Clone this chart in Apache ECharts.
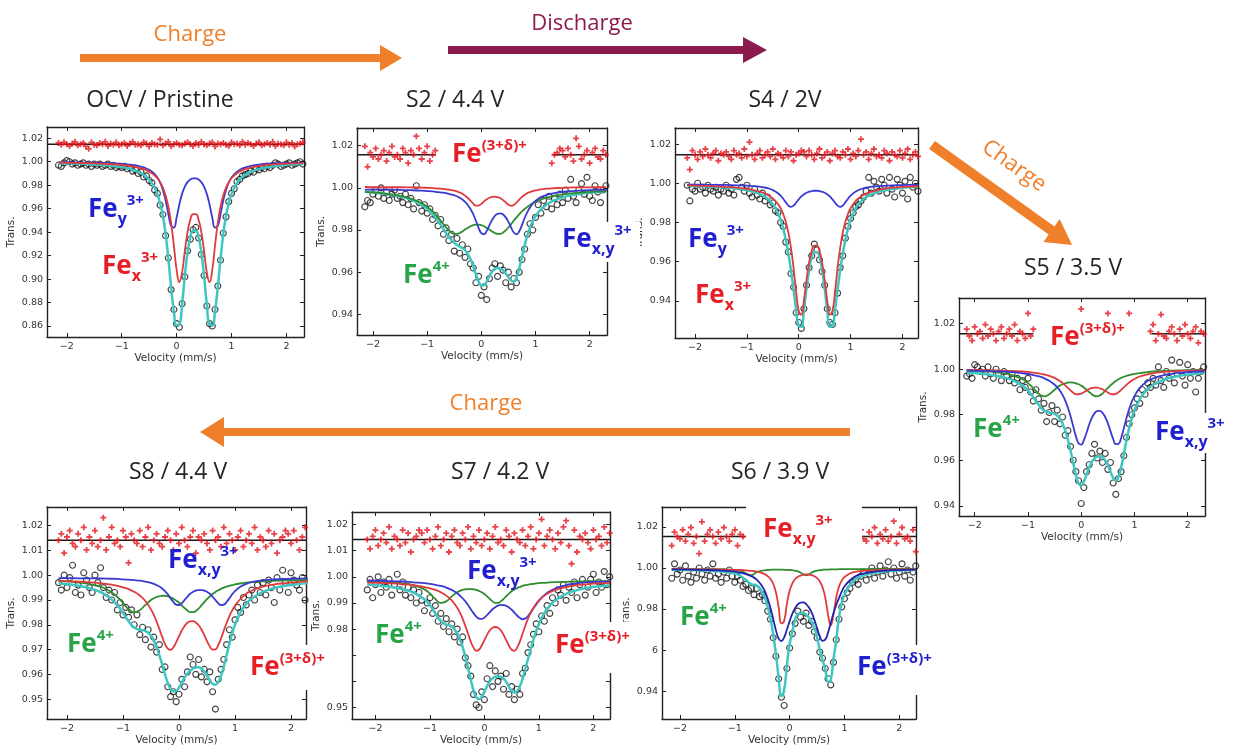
<!DOCTYPE html>
<html><head><meta charset="utf-8">
<script src="https://cdn.jsdelivr.net/npm/echarts@6.0.0/dist/echarts.min.js"></script>
<style>html,body{margin:0;padding:0;background:#fff}#c{width:1233px;height:747px}</style>
</head><body><div id="c"></div>
<script>
// ---------- shared axes values ----------
const vel = [-2.15,-2.1,-2.05,-2,-1.95,-1.9,-1.85,-1.8,-1.75,-1.7,-1.65,-1.6,-1.55,-1.5,-1.45,-1.4,-1.35,-1.3,-1.25,-1.2,-1.15,-1.1,-1.05,-1,-0.95,-0.9,-0.85,-0.8,-0.75,-0.7,-0.65,-0.6,-0.55,-0.5,-0.45,-0.4,-0.35,-0.3,-0.25,-0.2,-0.15,-0.1,-0.05,0,0.05,0.1,0.15,0.2,0.25,0.3,0.35,0.4,0.45,0.5,0.55,0.6,0.65,0.7,0.75,0.8,0.85,0.9,0.95,1,1.05,1.1,1.15,1.2,1.25,1.3,1.35,1.4,1.45,1.5,1.55,1.6,1.65,1.7,1.75,1.8,1.85,1.9,1.95,2,2.05,2.1,2.15,2.2,2.25,2.3];
const curveV = [-2.15,-1.9,-1.7,-1.5,-1.3,-1.1,-1.0,-0.9,-0.8,-0.7,-0.6,-0.5,-0.45,-0.4,-0.35,-0.3,-0.25,-0.2,-0.15,-0.1,-0.05,0,0.05,0.1,0.15,0.2,0.25,0.3,0.35,0.4,0.45,0.5,0.55,0.6,0.65,0.7,0.75,0.8,0.85,0.9,0.95,1.0,1.1,1.2,1.3,1.5,1.7,1.9,2.1,2.3];
const velTicks = [-2,-1,0,1,2];
const ocvYTicks = [0.86,0.88,0.90,0.92,0.94,0.96,0.98,1.00,1.02];
const stdYTicks = [0.94,0.96,0.98,1.00,1.02];
const s8YTicks = [0.95,0.96,0.97,0.98,0.99,1.00,1.01,1.02];
const s7YTicks = [0.95,0.96,0.97,0.98,0.99,1.00,1.01,1.02];
const s7YLabels = [0.95,0.98,0.99,1.00,1.01,1.02];

// ---------- OCV / Pristine ----------
const ocvLevel = 1.015;
const ocvData = [.997,.996,.999,1.001,1.000,.998,.999,.997,.998,.999,.997,.998,.996,.998,.997,.998,.996,.997,.998,.996,.997,.995,.996,.995,.996,.994,.995,.992,.993,.990,.991,.987,.988,.984,.982,.976,.973,.963,.955,.937,.918,.891,.874,.862,.859,.879,.902,.924,.934,.942,.944,.935,.921,.903,.877,.862,.860,.874,.894,.916,.939,.953,.966,.973,.977,.983,.985,.988,.989,.990,.992,.991,.994,.993,.995,.994,.996,.995,.997,.999,.998,.996,.997,.998,.999,.997,.998,.999,1.000,.998];
const ocvRes = [1.016,1.0145,1.0165,1.015,1.0135,1.0155,1.017,1.014,1.015,1.016,1.013,1.011,1.0165,1.0145,1.014,1.016,1.015,1.017,1.0135,1.0155,1.0145,1.0165,1.014,1.015,1.016,1.0135,1.0155,1.017,1.0145,1.015,1.014,1.0165,1.0155,1.013,1.016,1.015,1.0145,1.019,1.014,1.0155,1.017,1.0135,1.015,1.016,1.0145,1.014,1.0155,1.0165,1.015,1.0135,1.016,1.0145,1.017,1.015,1.014,1.0155,1.0165,1.013,1.0155,1.015,1.016,1.0145,1.0135,1.0165,1.015,1.0155,1.014,1.017,1.0145,1.016,1.015,1.0135,1.0155,1.0165,1.014,1.015,1.016,1.0145,1.017,1.0135,1.0155,1.015,1.014,1.0165,1.0145,1.016,1.013,1.015,1.0155,1.0165];
const ocvBlue = [.9996,.9995,.9993,.9991,.9989,.9985,.9982,.9978,.9972,.9964,.9952,.9931,.9916,.9895,.9865,.9822,.976,.967,.9554,.9453,.9439,.9524,.9636,.9726,.9788,.9826,.9849,.9858,.9858,.9849,.9826,.9788,.9726,.9636,.9524,.9439,.9453,.9554,.967,.976,.9822,.9865,.9916,.9943,.9958,.9975,.9984,.9988,.9991,.9993];
const ocvRed = [.9993,.9991,.9989,.9986,.9982,.9977,.9972,.9967,.996,.995,.9937,.9916,.9902,.9883,.9859,.9825,.9779,.9713,.9617,.9478,.9287,.908,.8974,.9057,.924,.9402,.9505,.9554,.9554,.9505,.9402,.924,.9057,.8974,.908,.9287,.9478,.9617,.9713,.9779,.9825,.9859,.9902,.9928,.9944,.9964,.9975,.9981,.9986,.9988];
const ocvFit = [.9988,.9985,.9982,.9977,.9971,.9961,.9954,.9945,.9932,.9914,.9889,.9847,.9818,.9778,.9724,.9647,.9539,.9383,.9171,.8931,.8726,.8604,.861,.8783,.9028,.9228,.9354,.9412,.9412,.9354,.9228,.9028,.8783,.861,.8604,.8726,.8931,.9171,.9383,.9539,.9647,.9724,.9818,.9871,.9902,.9939,.9958,.9969,.9977,.9981];

// ---------- S2 / 4.4 V ----------
const s2Level = 1.0157;
const s2Data = [.991,.994,.993,.997,.999,.996,1.000,.995,.998,.994,.997,.999,.995,.996,.993,.997,.992,.995,.990,1.001,.993,.989,.992,.988,.990,.985,.987,.982,.985,.978,.981,.975,.978,.970,.976,.969,.973,.967,.971,.964,.962,.955,.958,.949,.953,.947,.957,.962,.964,.958,.963,.961,.955,.960,.953,.957,.955,.960,.966,.971,.978,.983,.980,.986,.992,.988,.994,.991,.996,.990,.995,.992,.997,.993,.999,.995,1.004,.996,.993,.999,1.002,.997,1.005,.996,.994,1.001,.998,.993,.999,1.001];
const s2Res = [1.0197,1.010,1.0167,1.0147,1.0187,1.0137,1.0157,1.0177,1.0127,1.0167,1.0197,1.0147,1.0157,1.0137,1.0187,1.0167,1.0117,1.0177,1.0157,1.0245,1.0187,1.0137,1.0167,1.0197,1.0127,1.0157,1.0177,null,null,null,null,null,null,null,null,null,null,null,null,null,null,null,null,null,null,null,null,null,null,null,null,null,null,null,null,null,null,null,null,null,null,null,null,null,null,null,null,null,null,1.0117,1.0157,1.0167,1.0187,1.0177,1.0147,1.0187,1.0157,1.0127,1.0235,1.0197,1.0137,1.0157,1.0177,1.0117,1.0167,1.0187,1.0147,1.0137,1.0177,1.0157];
const s2Green = [.9981,.9976,.997,.9962,.9949,.9927,.991,.9888,.986,.9828,.9799,.9782,.9782,.9786,.9793,.9802,.981,.9818,.9823,.9826,.9826,.9823,.9818,.981,.9802,.9793,.9786,.9782,.9782,.9788,.9799,.9812,.9828,.9845,.986,.9875,.9888,.99,.991,.9919,.9927,.9934,.9945,.9953,.9959,.9969,.9975,.9979,.9982,.9984];
const s2Blue = [.9992,.9992,.9991,.999,.9989,.9987,.9985,.9983,.998,.9977,.9972,.9965,.996,.9953,.9945,.9934,.9919,.99,.9875,.9844,.981,.9785,.978,.9796,.9823,.9848,.9867,.9877,.9879,.9874,.986,.9839,.9812,.9788,.978,.9794,.9823,.9857,.9885,.9908,.9925,.9938,.9956,.9966,.9973,.9981,.9985,.9988,.999,.9991];
const s2Red = [1.0004,1.0003,1.0003,1.0003,1.0002,1.0001,1.0,.9999,.9997,.9995,.9992,.9987,.9983,.9978,.9972,.9963,.9952,.9939,.9925,.9916,.9916,.9924,.9936,.9946,.9953,.9957,.9958,.9956,.9951,.9942,.9931,.992,.9915,.9919,.993,.9944,.9957,.9967,.9975,.998,.9985,.9988,.9993,.9996,.9998,1.0,1.0002,1.0002,1.0003,1.0003];
const s2Fit = [.9982,.9976,.9969,.996,.9944,.9919,.990,.9875,.9843,.9805,.9767,.9739,.9729,.9722,.9714,.9704,.9686,.9661,.9628,.959,.9557,.9537,.9538,.9557,.9583,.9603,.9616,.962,.9617,.9609,.9594,.9576,.956,.9556,.9575,.9618,.9673,.9728,.9775,.9813,.9842,.9865,.9898,.992,.9935,.9955,.9967,.9974,.9979,.9983];

// ---------- S4 / 2V ----------
const s4Level = 1.0145;
const s4Data = [.999,.991,.997,.996,1.000,.997,.998,.995,.999,.997,.996,.998,.994,.997,.996,.999,.995,.997,.994,1.002,1.003,.998,.996,.999,.995,.993,.997,.994,.992,.995,.991,.993,.989,.990,.986,.985,.980,.978,.970,.965,.954,.947,.934,.929,.926,.936,.948,.957,.963,.969,.966,.961,.955,.948,.936,.929,.928,.934,.944,.957,.963,.972,.978,.982,.985,.988,.989,.991,.993,.996,1.003,.995,1.001,.998,.996,1.002,.999,.995,1.003,.997,.993,1.002,.999,.995,1.001,.992,1.003,.998,1.000,.996];
const s4Res = [1.013,1.007,1.0167,1.0145,1.0122,1.016,1.0137,1.0175,1.0145,1.013,1.0152,1.0167,1.0115,1.0152,1.0145,1.016,1.0137,1.0122,1.0167,1.0145,1.0152,1.013,1.0175,1.0137,1.021,1.0145,1.0122,1.0152,1.0167,1.013,1.0145,1.016,1.0137,1.0175,1.0122,1.0152,1.0145,1.013,1.0167,1.0137,1.016,1.0115,1.0145,1.0152,1.0167,1.016,1.0137,1.0167,1.0145,1.0122,1.0152,1.0175,1.013,1.0145,1.016,1.0115,1.0152,1.0167,1.0137,1.013,1.016,1.0145,1.0175,1.0122,1.0152,1.0137,1.0167,1.0225,1.0145,1.016,1.0122,1.0152,1.0175,1.0137,1.0145,1.013,1.0167,1.0152,1.0115,1.016,1.0145,1.0137,1.0167,1.013,1.0152,1.0175,1.0122,1.0145,1.016,1.0137];
const s4Red = [.9989,.9987,.9986,.9983,.998,.9975,.9972,.9967,.9961,.9953,.9941,.9923,.991,.9894,.9873,.9844,.9804,.9749,.9672,.9569,.9448,.9349,.933,.9403,.9508,.9596,.9654,.9682,.9682,.9654,.9596,.9508,.9403,.933,.9349,.9448,.9569,.9672,.9749,.9804,.9844,.9873,.991,.9932,.9947,.9964,.9974,.9979,.9983,.9985];
const s4Blue = [.9993,.9993,.9992,.9992,.9991,.9989,.9988,.9986,.9984,.998,.9975,.9965,.9958,.9949,.9937,.9921,.9903,.9887,.988,.9886,.9901,.9918,.9933,.9944,.9952,.9957,.996,.9962,.9962,.996,.9957,.9952,.9944,.9933,.9918,.9901,.9886,.988,.9887,.9903,.9921,.9937,.9958,.997,.9978,.9985,.9988,.999,.9992,.9992];
const s4Fit = [.9987,.9985,.9983,.998,.9976,.9969,.9964,.9958,.995,.9938,.9921,.9893,.9874,.9848,.9815,.977,.9712,.9641,.9558,.946,.9355,.9272,.9268,.9352,.9465,.9558,.9625,.9648,.9648,.9625,.9558,.9465,.9352,.9268,.9272,.9355,.946,.9558,.9641,.9712,.977,.9815,.9874,.9907,.993,.9954,.9966,.9974,.998,.9982];

// ---------- S5 / 3.5 V ----------
const s5Level = 1.0156;
const s5Data = [.997,.998,.996,1.002,1.001,.999,1.000,.997,1.001,.998,.996,1.000,.998,.995,.999,.997,.995,.998,.994,.996,.991,.995,.992,.996,.990,.986,.991,.987,.982,.985,.977,.981,.984,.977,.982,.976,.979,.971,.973,.966,.960,.955,.951,.941,.948,.955,.958,.963,.967,.961,.964,.959,.963,.956,.959,.950,.945,.952,.955,.962,.970,.976,.980,.983,.987,.985,.991,.989,.994,.992,.996,.993,1.001,.995,.992,.999,.996,1.004,.994,.998,1.003,.997,.993,1.002,.996,.999,.990,.996,.999,1.001];
const s5Res = [1.0176,1.0146,1.0126,1.0186,1.0156,1.0166,1.0136,1.0196,1.0146,1.0176,1.0156,1.0126,1.0166,1.0186,1.0136,1.0156,1.0176,1.0146,1.0196,1.0126,1.0166,1.0156,1.0136,1.0245,1.0146,1.0176,null,null,null,null,null,null,null,null,null,null,null,null,null,null,null,null,null,1.0265,null,null,null,null,null,null,null,null,null,1.0245,null,null,null,null,null,null,null,1.0245,null,null,null,null,null,null,null,1.0166,1.0196,1.0126,1.0156,1.024,1.0146,1.0136,1.0166,1.0186,1.0156,1.0126,1.0176,1.0146,1.0196,1.0156,1.0136,1.0166,1.0186,1.0116,1.0166,1.0156];
const s5Red = [.9997,.9996,.9995,.9994,.9992,.999,.9988,.9985,.9982,.9977,.9971,.9962,.9955,.9948,.9939,.9929,.9918,.9907,.9897,.9891,.989,.9893,.9899,.9906,.9913,.9917,.9919,.9919,.9916,.9912,.9905,.9898,.9892,.989,.9892,.9899,.9909,.992,.9931,.9941,.995,.9957,.9968,.9975,.998,.9987,.9991,.9993,.9994,.9996];
const s5Green = [.9994,.9992,.9989,.9983,.9974,.9956,.9939,.9917,.9893,.9881,.989,.991,.992,.9928,.9934,.9938,.9941,.9942,.9941,.9938,.9934,.9928,.992,.991,.99,.989,.9883,.9881,.9885,.9893,.9905,.9917,.9929,.9939,.9948,.9956,.9962,.9967,.9971,.9974,.9977,.998,.9983,.9986,.9989,.9992,.9994,.9995,.9996,.9997];
const s5Blue = [.9995,.9993,.9992,.999,.9987,.9982,.9979,.9974,.9969,.9961,.9949,.9932,.9921,.9906,.9887,.9862,.9831,.9793,.9749,.9706,.9675,.9669,.9688,.9721,.9757,.9786,.9806,.9816,.9817,.9808,.979,.9763,.9728,.9694,.9671,.9672,.9698,.974,.9785,.9824,.9857,.9882,.9918,.994,.9955,.9971,.998,.9985,.9989,.9991];
const s5Fit = [.9985,.9981,.9975,.9967,.9953,.9927,.9906,.9877,.9844,.9819,.981,.9804,.9796,.9782,.976,.973,.969,.9642,.9588,.9536,.9499,.949,.9507,.9537,.9569,.9593,.9608,.9616,.9618,.9613,.96,.9578,.955,.9523,.9511,.9526,.9569,.9627,.9687,.974,.9784,.9819,.9869,.9901,.9923,.9949,.9964,.9973,.9979,.9983];

// ---------- S8 / 4.4 V ----------
const s8Level = 1.0141;
const s8Data = [.997,.994,1.000,.995,.999,1.004,.993,.996,.992,1.001,.998,.995,.993,1.000,.997,1.003,.995,.991,.994,.990,.993,.986,.989,.984,.987,.983,.986,.980,.984,.976,.979,.974,.978,.971,.975,.969,.972,.962,.963,.955,.951,.953,.949,.952,.958,.955,.961,.967,.964,.960,.966,.959,.962,.957,.961,.953,.946,.958,.962,.966,.972,.978,.975,.982,.987,.985,.991,.988,.992,.994,.990,.996,.993,.997,.992,.998,.995,.989,.999,.994,1.002,.997,.993,1.001,.998,.996,.994,.999,.990,1.000];
const s8Res = [1.0141,1.0167,1.0089,1.0154,1.018,1.0128,1.0115,1.0167,1.0141,1.0193,1.0102,1.0154,1.0128,1.018,1.0115,1.0141,1.0232,1.0102,1.0154,1.0193,1.0128,1.0141,1.0115,1.018,1.0154,1.005,1.0167,1.0141,1.0128,1.018,1.0115,1.0154,1.0193,1.0102,1.0141,1.0167,1.0128,1.0115,1.0154,1.018,1.0141,1.0102,1.0167,1.0128,1.0193,1.0141,1.0115,1.0154,1.018,1.0089,1.0154,1.0141,1.0167,1.0128,1.0102,1.018,1.0141,1.0154,1.0115,1.0193,1.0128,1.0167,1.0141,1.0102,1.0154,1.018,1.0115,1.0141,1.0167,1.0128,1.0193,1.0102,1.0154,1.0141,1.0115,1.018,1.0128,1.0167,1.0089,1.0141,1.0154,1.018,1.0167,1.0128,1.018,1.0141,1.0102,1.0154,1.0193,1.009];
const s8Red = [.9977,.9975,.9973,.997,.9965,.9957,.9951,.9944,.9933,.9918,.9896,.9862,.984,.9813,.9783,.9751,.9723,.9704,.9699,.9709,.973,.9754,.9777,.9795,.9808,.9814,.9815,.9809,.9798,.9781,.9759,.9734,.9713,.97,.9701,.9718,.9745,.9777,.9807,.9835,.9858,.9877,.9905,.9925,.9938,.9954,.9963,.9968,.9972,.9975];
const s8Blue = [.9988,.9988,.9987,.9987,.9986,.9985,.9983,.9982,.998,.9978,.9974,.9969,.9965,.996,.9954,.9946,.9936,.9923,.9907,.9892,.9881,.9879,.9887,.99,.9913,.9925,.9933,.9938,.994,.994,.9938,.9933,.9925,.9913,.99,.9887,.9879,.9881,.9892,.9907,.9923,.9936,.9954,.9965,.9972,.9979,.9983,.9985,.9986,.9987];
const s8Green = [.9976,.9973,.9968,.9959,.9944,.9912,.9888,.9863,.985,.9859,.988,.99,.9907,.9912,.9915,.9917,.9917,.9915,.9911,.9905,.9898,.9889,.9878,.9867,.9858,.9851,.9851,.9856,.9865,.9878,.9891,.9903,.9914,.9924,.9932,.9939,.9945,.995,.9954,.9957,.996,.9963,.9967,.997,.9972,.9975,.9977,.9979,.998,.9981];
const s8Fit = [.9967,.9961,.9953,.9941,.9919,.9879,.9848,.9814,.9789,.978,.9775,.9756,.9736,.971,.9677,.9639,.96,.9566,.9542,.9531,.9533,.9547,.9566,.9587,.9603,.9615,.9623,.9628,.9629,.9624,.9612,.9595,.9577,.9562,.9558,.9569,.9594,.9632,.9678,.9724,.9766,.98,.9851,.9884,.9906,.9933,.9948,.9957,.9963,.9968];

// ---------- S7 / 4.2 V ----------
const s7Level = 1.0143;
const s7Data = [.995,.999,.992,.997,1.000,.994,.998,.996,.999,.993,.997,1.001,.995,.998,.993,.996,.992,.995,.990,.994,.991,.987,.990,.992,.986,.989,.983,.986,.981,.984,.979,.982,.977,.980,.975,.977,.969,.966,.962,.955,.951,.950,.956,.953,.961,.966,.958,.964,.960,.962,.957,.963,.955,.958,.953,.957,.955,.963,.965,.971,.974,.978,.982,.979,.985,.983,.989,.986,.992,.990,.995,.993,.997,.991,.996,.994,.998,.992,.997,.999,.993,.996,.999,1.001,.994,.998,.996,1.002,.997,1.000];
const s7Res = [1.0143,1.0107,1.0155,1.0179,1.0119,1.0143,1.0167,1.0131,1.0191,1.0107,1.0155,1.0143,1.0119,1.0179,1.0131,1.0167,1.0095,1.0143,1.0155,1.0179,1.0167,1.0131,1.0179,1.0143,1.0107,1.0155,1.0191,1.0119,1.0143,1.0167,1.0095,1.0155,1.0179,1.0131,1.0119,1.0167,1.0143,1.0191,1.0107,1.0155,1.0131,1.0179,1.0119,1.0143,1.0167,1.0107,1.0155,1.0191,1.0131,1.0143,1.0119,1.0179,1.0155,1.0095,1.0167,1.0143,1.0131,1.0179,1.0119,1.0155,1.0191,1.0107,1.0143,1.0167,1.022,1.0119,1.0155,1.0179,1.0143,1.0107,1.0167,1.0131,1.0191,1.0215,1.0119,1.005,1.0179,1.0095,1.0155,1.0143,1.0167,1.0131,1.0107,1.0179,1.0143,1.0155,1.0119,1.0191,1.0131,1.0167];
const s7Red = [.9978,.9977,.9975,.9972,.9968,.9961,.9956,.995,.9941,.9928,.991,.9882,.9863,.984,.9812,.9782,.9752,.9729,.9717,.9721,.9737,.9758,.9779,.9795,.9805,.9808,.9805,.9795,.9779,.9758,.9737,.9721,.9717,.9729,.9752,.9782,.9812,.984,.9863,.9882,.9897,.991,.9928,.9941,.995,.9961,.9968,.9972,.9975,.9977];
const s7Blue = [.9986,.9985,.9983,.9982,.9979,.9976,.9973,.9969,.9965,.9959,.995,.9937,.9928,.9918,.9906,.9892,.9876,.9861,.9848,.984,.9839,.9844,.9854,.9865,.9876,.9884,.989,.9893,.9892,.9889,.9883,.9874,.9863,.9852,.9843,.9838,.9841,.985,.9864,.9879,.9894,.9908,.993,.9945,.9955,.9968,.9975,.9979,.9981,.9983];
const s7Green = [.9982,.998,.9978,.9975,.9968,.9952,.9936,.9915,.99,.9906,.9925,.9941,.9946,.995,.9952,.9953,.9953,.9952,.995,.9946,.9941,.9934,.9925,.9915,.9906,.99,.99,.9906,.9915,.9926,.9936,.9945,.9952,.9957,.9961,.9965,.9968,.997,.9972,.9973,.9975,.9976,.9977,.9979,.998,.9981,.9982,.9983,.9983,.9983];
const s7Fit = [.9971,.9966,.9961,.9953,.994,.9913,.9891,.986,.9831,.9818,.981,.9784,.9762,.9732,.9695,.9652,.9606,.9566,.954,.9532,.9541,.956,.9582,.96,.9611,.9618,.962,.9618,.9611,.9598,.958,.9564,.9557,.9562,.9581,.961,.9646,.9685,.9723,.9759,.9791,.9819,.9861,.989,.991,.9935,.9949,.9958,.9964,.9968];

// ---------- S6 / 3.9 V ----------
const s6Level = 1.0153;
const s6Data = [.995,1.002,.997,.999,.994,1.001,.996,.993,.998,.995,1.000,.997,.994,.999,.996,1.002,.995,.997,.993,.998,.995,.999,.996,.993,.996,.994,.991,.992,.989,.990,.987,.990,.986,.987,.984,.979,.975,.966,.957,.946,.937,.933,.951,.961,.968,.973,.979,.976,.974,.978,.972,.974,.969,.966,.959,.956,.951,.946,.943,.954,.965,.975,.981,.985,.988,.990,.993,.994,.992,.996,.998,.994,.997,1.000,.995,.998,1.001,.996,.999,1.003,.997,1.000,.995,.998,1.002,.996,.999,.994,.998,1.001];
const s6Res = [1.0109,1.0175,1.0153,1.0142,1.0186,1.0131,1.0164,1.0197,1.012,1.0153,1.007,1.0225,1.0131,1.0164,1.0186,1.0153,1.012,1.0175,1.0142,1.0197,1.0153,1.0131,1.0164,1.0186,1.0109,1.0164,1.0153,null,null,null,null,null,null,null,null,null,null,null,null,null,null,null,null,null,null,null,null,null,null,null,null,null,null,null,null,null,null,null,null,null,null,null,null,null,null,null,null,null,null,1.0186,1.0142,1.0131,1.0175,1.0153,1.0197,1.012,1.0164,1.0142,1.0186,1.0131,1.0153,1.0228,1.012,1.0164,1.0197,1.0142,1.0153,1.0131,1.0186,1.008];
const s6Blue = [.9993,.9992,.9991,.999,.9988,.9985,.9982,.9977,.997,.996,.9943,.991,.9885,.985,.9805,.9752,.9697,.9656,.9644,.9662,.9699,.9741,.9777,.9804,.9822,.9831,.9832,.9824,.9808,.9783,.9749,.9707,.9668,.9645,.9651,.9685,.9732,.9779,.982,.9853,.9885,.991,.994,.996,.997,.998,.9986,.9989,.9991,.9992];
const s6Red = [.9994,.9994,.9993,.9993,.9992,.9991,.9991,.999,.9988,.9986,.9982,.9975,.9969,.996,.9946,.9923,.9881,.9809,.973,.9742,.9825,.9889,.9925,.9946,.9957,.9963,.9967,.9968,.9968,.9965,.996,.9951,.9935,.9906,.9855,.9774,.972,.9774,.9856,.9909,.9938,.9955,.9973,.9981,.9985,.9989,.9991,.9992,.9993,.9993];
const s6Green = [.9995,.9995,.9994,.9994,.9994,.9992,.999,.9986,.9974,.9965,.998,.9987,.9989,.999,.9991,.9992,.9992,.9992,.9992,.9991,.9991,.999,.9989,.9987,.9983,.9977,.9969,.9965,.9969,.9977,.9983,.9987,.9989,.9991,.9992,.9992,.9993,.9993,.9993,.9994,.9994,.9994,.9994,.9994,.9994,.9995,.9995,.9995,.9995,.9995];
const s6Fit = [.9991,.999,.9989,.9987,.9984,.9978,.9973,.9962,.9942,.9921,.9914,.9882,.9853,.9811,.9752,.9676,.958,.9467,.9376,.9405,.9525,.963,.9689,.9747,.9776,.9781,.978,.9772,.976,.9737,.9707,.9659,.9602,.9552,.9507,.9445,.9454,.9557,.9647,.976,.9827,.9869,.9917,.9945,.9959,.9974,.9982,.9986,.9989,.999];

// ---------- styling / layout ----------
const RED = '#e03a3c', BLUE = '#3a3ad2', GREEN = '#2f8c2f', NAVY = '#2424b0', CYAN = '#3ec6c2';
const LBL_R = '#e61e25', LBL_B = '#1f1fd0', LBL_G = '#27a448';
const ORANGE = '#ef7f2a', PURPLE = '#8c1b4d';
const AXF = 'DejaVu Sans', TF = 'Open Sans';

const layout = [
  {left:47,  top:127, width:257, height:210, xmin:-2.36,  xmax:2.32,  ymin:0.8506, ymax:1.0296, gap:null},
  {left:357, top:128, width:250, height:207, xmin:-2.295, xmax:2.32,  ymin:0.9302, ymax:1.0284, gap:[-0.84,1.32]},
  {left:675, top:128, width:243, height:210, xmin:-2.386, xmax:2.30,  ymin:0.9211, ymax:1.0282, gap:null},
  {left:959, top:298, width:246, height:218, xmin:-2.295, xmax:2.325, ymin:0.9355, ymax:1.0313, gap:[-0.9,1.32]},
  {left:47,  top:507, width:259, height:215, xmin:-2.356, xmax:2.267, ymin:0.942,  ymax:1.0275, gap:null},
  {left:352, top:512, width:258, height:210, xmin:-2.43,  xmax:2.305, ymin:0.9456, ymax:1.0248, gap:null},
  {left:662, top:507, width:254, height:213, xmin:-2.328, xmax:2.305, ymin:0.9264, ymax:1.0297, gap:[-0.8,1.3]}
];

const panels = [
  {data:ocvData, res:ocvRes, level:ocvLevel, fit:ocvFit, comps:[[ocvBlue,BLUE],[ocvRed,RED]], yTicks:ocvYTicks, yLabels:ocvYTicks},
  {data:s2Data, res:s2Res, level:s2Level, fit:s2Fit, comps:[[s2Green,GREEN],[s2Blue,BLUE],[s2Red,RED]], yTicks:stdYTicks, yLabels:stdYTicks},
  {data:s4Data, res:s4Res, level:s4Level, fit:s4Fit, comps:[[s4Blue,BLUE],[s4Red,RED]], yTicks:stdYTicks, yLabels:stdYTicks},
  {data:s5Data, res:s5Res, level:s5Level, fit:s5Fit, comps:[[s5Green,GREEN],[s5Red,RED],[s5Blue,BLUE]], yTicks:stdYTicks, yLabels:stdYTicks},
  {data:s8Data, res:s8Res, level:s8Level, fit:s8Fit, comps:[[s8Green,GREEN],[s8Blue,BLUE],[s8Red,RED]], yTicks:s8YTicks, yLabels:s8YTicks},
  {data:s7Data, res:s7Res, level:s7Level, fit:s7Fit, comps:[[s7Green,GREEN],[s7Blue,BLUE],[s7Red,RED]], yTicks:s7YTicks, yLabels:s7YLabels},
  {data:s6Data, res:s6Res, level:s6Level, fit:s6Fit, comps:[[s6Green,GREEN],[s6Red,RED],[s6Blue,NAVY]], yTicks:stdYTicks, yLabels:stdYTicks}
];

function pairs(xs, ys){ const o=[]; for(let i=0;i<xs.length;i++){ if(ys[i]!==null && ys[i]!==undefined) o.push([xs[i], ys[i]]); } return o; }
const fmtX = v => (v < 0 ? '\u2212' + (-v) : String(v));
const fmtY = v => v.toFixed(2);
const PLUS = 'path://M2.1,0H3.9V2.1H6V3.9H3.9V6H2.1V3.9H0V2.1H2.1Z';

const grids = [], xAxes = [], yAxes = [], series = [];
layout.forEach((L, i) => {
  const P = panels[i];
  grids.push({left:L.left, top:L.top, width:L.width, height:L.height, show:false});
  const axLine = {show:true, onZero:false, lineStyle:{color:'#222', width:1.4}};
  const tick = (vals) => ({show:true, inside:true, length:4, customValues:vals, lineStyle:{color:'#222', width:1}});
  xAxes.push({type:'value', gridIndex:i, position:'bottom', min:L.xmin, max:L.xmax, axisLine:axLine, axisTick:tick(velTicks),
    axisLabel:{customValues:velTicks, formatter:fmtX, fontSize:9.5, color:'#333', margin:5, fontFamily:AXF},
    splitLine:{show:false}, name:'Velocity (mm/s)', nameLocation:'middle', nameGap:16,
    nameTextStyle:{fontSize:10.5, color:'#333', fontFamily:AXF}});
  xAxes.push({type:'value', gridIndex:i, position:'top', min:L.xmin, max:L.xmax, axisLine:axLine, axisTick:tick(velTicks),
    axisLabel:{show:false}, splitLine:{show:false}});
  yAxes.push({type:'value', gridIndex:i, position:'left', min:L.ymin, max:L.ymax, axisLine:axLine, axisTick:tick(P.yTicks),
    axisLabel:{customValues:P.yLabels, formatter:fmtY, fontSize:9.5, color:'#333', margin:4, fontFamily:AXF},
    splitLine:{show:false}, name:'Trans.', nameLocation:'middle', nameGap:30, nameRotate:90,
    nameTextStyle:{fontSize:10.5, color:'#333', fontFamily:AXF}});
  yAxes.push({type:'value', gridIndex:i, position:'right', min:L.ymin, max:L.ymax, axisLine:axLine, axisTick:tick(P.yTicks),
    axisLabel:{show:false}, splitLine:{show:false}});
  const xa = 2*i, ya = 2*i;
  const segs = L.gap ? [[L.xmin, L.gap[0]], [L.gap[1], L.xmax]] : [[L.xmin, L.xmax]];
  segs.forEach(s => series.push({type:'line', xAxisIndex:xa, yAxisIndex:ya, data:[[s[0],P.level],[s[1],P.level]],
    symbol:'none', lineStyle:{color:'#1a1a1a', width:1.5}, z:2, silent:true}));
  series.push({type:'scatter', xAxisIndex:xa, yAxisIndex:ya, data:pairs(vel, P.res), symbol:PLUS, symbolSize:6,
    itemStyle:{color:'#e3141c'}, z:3, silent:true});
  series.push({type:'scatter', xAxisIndex:xa, yAxisIndex:ya, data:pairs(vel, P.data), symbol:'circle', symbolSize:6,
    itemStyle:{color:'rgba(0,0,0,0)', borderColor:'#141414', borderWidth:1.15}, z:3, silent:true});
  series.push({type:'line', xAxisIndex:xa, yAxisIndex:ya, data:pairs(curveV, P.fit), symbol:'none', smooth:true,
    lineStyle:{color:CYAN, width:2.5}, z:4, silent:true});
  P.comps.forEach(c => series.push({type:'line', xAxisIndex:xa, yAxisIndex:ya, data:pairs(curveV, c[0]), symbol:'none', smooth:true,
    lineStyle:{color:c[1], width:1.8}, z:5, silent:true}));
});

// ---------- annotations ----------
const titles = [
  ['OCV / Pristine', 160, 100], ['S2 / 4.4 V', 455, 100], ['S4 / 2V', 785, 100], ['S5 / 3.5 V', 1073, 268],
  ['S8 / 4.4 V', 178, 472], ['S7 / 4.2 V', 500, 472], ['S6 / 3.9 V', 780, 472]
];
const labels = [
  {x:88,  y:210, c:LBL_B, sub:'y',   sup:'3+'},
  {x:102, y:267, c:LBL_R, sub:'x',   sup:'3+'},
  {x:452, y:155, c:LBL_R, sup:'(3+δ)+'},
  {x:403, y:276, c:LBL_G, sup:'4+'},
  {x:562, y:240, c:LBL_B, sub:'x,y', sup:'3+', box:[558,222,82,40]},
  {x:688, y:240, c:LBL_B, sub:'y',   sup:'3+'},
  {x:695, y:296, c:LBL_R, sub:'x',   sup:'3+'},
  {x:1050,y:338, c:LBL_R, sup:'(3+δ)+'},
  {x:973, y:430, c:LBL_G, sup:'4+'},
  {x:1155,y:433, c:LBL_B, sub:'x,y', sup:'3+', box:[1150,413,83,40]},
  {x:168, y:561, c:LBL_B, sub:'x,y', sup:'3+'},
  {x:67,  y:645, c:LBL_G, sup:'4+'},
  {x:250, y:668, c:LBL_R, sup:'(3+δ)+', box:[245,645,95,45]},
  {x:467, y:572, c:LBL_B, sub:'x,y', sup:'3+'},
  {x:375, y:636, c:LBL_G, sup:'4+'},
  {x:555, y:646, c:LBL_R, sup:'(3+δ)+', box:[548,622,104,51]},
  {x:763, y:530, c:LBL_R, sub:'x,y', sup:'3+', box:[746,502,116,46]},
  {x:680, y:618, c:LBL_G, sup:'4+'},
  {x:857, y:668, c:LBL_B, sup:'(3+δ)+', box:[850,645,98,50]}
];
const graphic = [];
labels.forEach(l => {
  if (l.box) graphic.push({type:'rect', z:50, shape:{x:l.box[0], y:l.box[1], width:l.box[2], height:l.box[3]}, style:{fill:'#fff'}});
  let t = '{b|Fe}' + (l.sub ? '{s|' + l.sub + '}' : '') + '{p|' + l.sup + '}';
  graphic.push({type:'text', z:60, x:l.x, y:l.y, style:{text:t, fill:l.c, textAlign:'left', textVerticalAlign:'middle', verticalAlign:'middle',
    rich:{
      b:{fontSize:26, fontWeight:'bold', fontFamily:TF, lineHeight:34, fill:l.c, verticalAlign:'middle'},
      s:{fontSize:16, fontWeight:'bold', fontFamily:TF, lineHeight:17, fill:l.c, verticalAlign:'bottom'},
      p:{fontSize:15, fontWeight:'bold', fontFamily:TF, lineHeight:17, fill:l.c, verticalAlign:'top'}
    }}});
});
titles.forEach(t => graphic.push({type:'text', z:60, x:t[1], y:t[2], style:{text:t[0], fill:'#262626', font:'23px "Open Sans"',
  textAlign:'center', textVerticalAlign:'middle', verticalAlign:'middle'}}));
function txt(s, x, y, color, rot){ return {type:'text', z:60, x:x, y:y, rotation:rot||0, style:{text:s, fill:color, font:'22px "Open Sans"', textAlign:'center', textVerticalAlign:'middle', verticalAlign:'middle'}}; }
graphic.push(txt('Charge', 190, 35, ORANGE));
graphic.push(txt('Discharge', 582, 24, PURPLE));
graphic.push(txt('Charge', 486, 404, ORANGE));
graphic.push(txt('Charge', 1014, 166, ORANGE, -0.62));
graphic.push({type:'polygon', z:40, shape:{points:[[80,54],[380,54],[380,45],[402,58],[380,71],[380,62],[80,62]]}, style:{fill:ORANGE}});
graphic.push({type:'polygon', z:40, shape:{points:[[448,46],[743,46],[743,37],[767,50],[743,63],[743,54],[448,54]]}, style:{fill:PURPLE}});
graphic.push({type:'polygon', z:40, shape:{points:[[850,428],[224,428],[224,417],[200,432],[224,447],[224,436],[850,436]]}, style:{fill:ORANGE}});
graphic.push({type:'polygon', z:40, shape:{points:[[934.9,140.9],[1054.5,226.4],[1059.7,219.1],[1072,245],[1043.5,241.9],[1048.7,234.6],[929.1,149.1]]}, style:{fill:ORANGE}});

const chart = echarts.init(document.getElementById('c'), null, {renderer:'canvas'});
chart.setOption({backgroundColor:'#fff', animation:false, grid:grids, xAxis:xAxes, yAxis:yAxes, series:series, graphic:graphic});
</script></body></html>
